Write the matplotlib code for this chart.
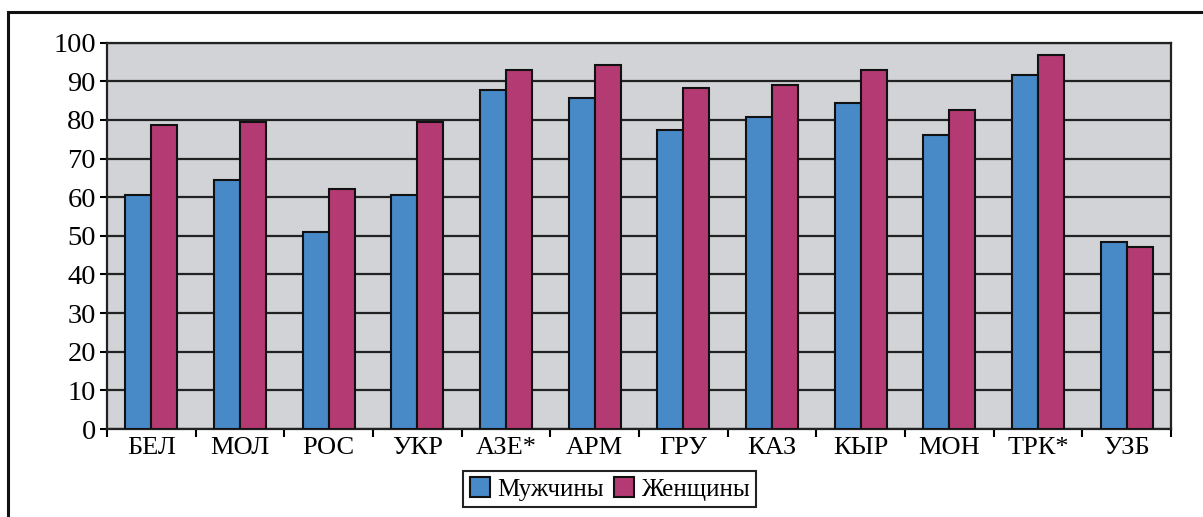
import matplotlib

matplotlib.use("Agg")
import matplotlib.pyplot as plt
import numpy as np
from matplotlib.patches import Rectangle

categories = ["БЕЛ", "МОЛ", "РОС", "УКР", "АЗЕ*", "АРМ", "ГРУ", "КАЗ", "КЫР", "МОН", "ТРК*", "УЗБ"]
men = [60.6, 64.5, 51.0, 60.6, 87.8, 85.8, 77.5, 80.8, 84.5, 76.2, 91.6, 48.4]
women = [78.8, 79.4, 62.0, 79.4, 93.0, 94.2, 88.4, 89.0, 93.0, 82.6, 96.9, 47.2]
y_ticks = list(range(0, 101, 10))

BLUE = "#4889c8"
RED = "#b33a72"
GRAY = "#d2d3d6"

plt.rcParams["font.family"] = ["Liberation Serif", "DejaVu Serif"]

fig = plt.figure(figsize=(12.03, 5.17), dpi=100)
ax = fig.add_axes([0.0889, 0.1702, 0.8845, 0.7472])

# outer frame of the picture (right and bottom edges fall outside the image)
top = 1 - 12 / 517
fig.patches.append(Rectangle((8 / 1203, -0.2), 1.2, top + 0.2, transform=fig.transFigure,
                             fill=False, edgecolor="#111111", linewidth=2.2, zorder=0))

x = np.arange(len(categories))
w = 0.293
ax.set_facecolor(GRAY)
ax.bar(x - w / 2, men, width=w, color=BLUE, edgecolor="#111111", linewidth=1.5, label="Мужчины", zorder=3)
ax.bar(x + w / 2, women, width=w, color=RED, edgecolor="#111111", linewidth=1.5, label="Женщины", zorder=3)

ax.set_xlim(-0.5, len(categories) - 0.5)
ax.set_ylim(0, 100)
ax.set_yticks(y_ticks)
ax.yaxis.grid(True, color="#222222", linewidth=1.6, zorder=1)
ax.set_axisbelow(True)

ax.set_xticks(x)
ax.set_xticklabels(categories, fontsize=19)
ax.set_xticks(np.arange(-0.5, len(categories), 1), minor=True)
ax.tick_params(axis="x", which="major", length=0, pad=6)
ax.tick_params(axis="x", which="minor", length=6, width=1.5, direction="out")
ax.tick_params(axis="y", length=5, width=1.5, direction="out", labelsize=20.5, pad=3)

for s in ax.spines.values():
    s.set_color("#222222")
    s.set_linewidth(1.6)

leg = fig.legend(loc="center", bbox_to_anchor=(0.507, 0.054), ncol=2, fontsize=18,
                 frameon=True, fancybox=False, edgecolor="#222222", framealpha=1,
                 handlelength=0.8, handleheight=0.8, handletextpad=0.3, columnspacing=0.4,
                 borderpad=0.25)
leg.get_frame().set_linewidth(1.5)

fig.savefig("out.png", dpi=100)
